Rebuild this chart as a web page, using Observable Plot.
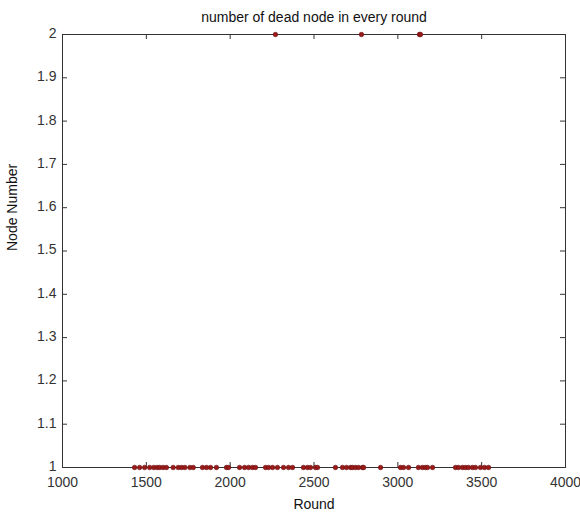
<!DOCTYPE html>
<html>
<head>
<meta charset="utf-8">
<script src="https://cdn.jsdelivr.net/npm/d3@7"></script>
<script src="https://cdn.jsdelivr.net/npm/@observablehq/plot@0.6"></script>
<style>
body { margin: 0; background: #fff; }
</style>
</head>
<body>
<div id="chart"></div>
<script>
const title = "number of dead node in every round";
const xLabel = "Round";
const yLabel = "Node Number";
const xTicks = [1000, 1500, 2000, 2500, 3000, 3500, 4000];
const yTicks = [1, 1.1, 1.2, 1.3, 1.4, 1.5, 1.6, 1.7, 1.8, 1.9, 2];

// rounds in which one node died
const roundsOne = [1430, 1460, 1490, 1520, 1545, 1565, 1580, 1600, 1620, 1660, 1690, 1710, 1730, 1760, 1780,
  1835, 1859, 1883, 1918, 1978, 1990, 2056, 2086, 2110, 2133, 2151, 2211, 2229, 2253,
  2282, 2318, 2348, 2372, 2437, 2461, 2479, 2509, 2521, 2628, 2670, 2694, 2718,
  2730, 2748, 2766, 2790, 2796, 2897, 3016, 3034, 3064, 3123, 3147, 3165,
  3177, 3207, 3344, 3362, 3386, 3404, 3421, 3445, 3463, 3493, 3517, 3541];
// rounds in which two nodes were dead
const roundsTwo = [2270, 2783, 3129, 3135];

const points = [
  ...roundsOne.map(r => ({round: r, nodes: 1})),
  ...roundsTwo.map(r => ({round: r, nodes: 2}))
];

const W = 580, H = 513, mL = 62, mR = 15, mT = 34, mB = 46, tick = 5;
const fw = W - mL - mR, fh = H - mT - mB;

const chart = Plot.plot({
  width: W,
  height: H,
  marginLeft: mL,
  marginRight: mR,
  marginTop: mT,
  marginBottom: mB,
  style: {fontFamily: "Liberation Sans, Arial, sans-serif", fontSize: "14px", background: "#fff", color: "#222"},
  x: {domain: [1000, 4000]},
  y: {domain: [1, 2]},
  marks: [
    Plot.frame({stroke: "#333", strokeWidth: 1}),
    Plot.axisX(xTicks, {anchor: "bottom", tickSize: 0, tickPadding: 10, fontSize: 14, label: null, tickFormat: d => String(d), fill: "#333"}),
    Plot.axisY(yTicks, {anchor: "left", tickSize: 0, tickPadding: 6, fontSize: 14, label: null, tickFormat: d => String(d), fill: "#333", dy: -1}),
    Plot.tickX(xTicks, {x: d => d, insetTop: fh - tick, stroke: "#333"}),
    Plot.tickX(xTicks, {x: d => d, insetBottom: fh - tick, stroke: "#333"}),
    Plot.tickY(yTicks, {y: d => d, insetRight: fw - tick, stroke: "#333"}),
    Plot.tickY(yTicks, {y: d => d, insetLeft: fw - tick, stroke: "#333"}),
    Plot.dot(points, {x: "round", y: "nodes", r: 2.3, fill: "#9a1a1a", stroke: "#6b1010", strokeWidth: 0.6}),
    Plot.text([title], {frameAnchor: "top", dy: -22, fontSize: 14, fill: "#111", letterSpacing: "0.3px"}),
    Plot.text([xLabel], {frameAnchor: "bottom", dy: 41, fontSize: 14, fill: "#111", letterSpacing: "0.8px"}),
    Plot.text([yLabel], {frameAnchor: "left", dx: -50, rotate: -90, fontSize: 14, fill: "#111", letterSpacing: "1px"})
  ]
});
document.getElementById("chart").appendChild(chart);
</script>
</body>
</html>
